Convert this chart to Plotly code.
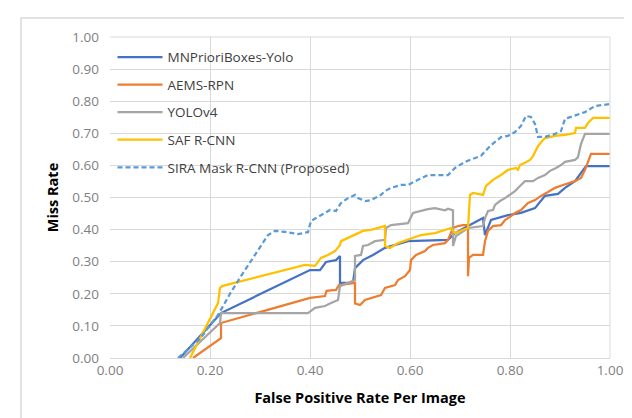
import plotly.graph_objects as go

# ---- data ----
mn_x = [0.14, 0.222, 0.40, 0.42, 0.432, 0.452, 0.46, 0.46, 0.486, 0.49, 0.506, 0.526, 0.55, 0.596, 0.676, 0.69, 0.716, 0.746, 0.75, 0.756, 0.762, 0.796, 0.822, 0.85, 0.87, 0.896, 0.91, 0.93, 0.942, 0.952, 1.0]
mn_y = [0.0, 0.14, 0.274, 0.274, 0.299, 0.305, 0.318, 0.234, 0.234, 0.28, 0.305, 0.321, 0.343, 0.364, 0.368, 0.389, 0.411, 0.436, 0.383, 0.405, 0.430, 0.445, 0.452, 0.467, 0.505, 0.511, 0.530, 0.551, 0.576, 0.598, 0.598]

aems_x = [0.166, 0.222, 0.222, 0.40, 0.43, 0.433, 0.452, 0.458, 0.49, 0.49, 0.50, 0.51, 0.542, 0.55, 0.57, 0.576, 0.59, 0.60, 0.602, 0.612, 0.63, 0.636, 0.646, 0.67, 0.676, 0.686, 0.696, 0.706, 0.716, 0.716, 0.718, 0.726, 0.746, 0.75, 0.756, 0.766, 0.782, 0.79, 0.802, 0.81, 0.822, 0.836, 0.85, 0.862, 0.876, 0.89, 0.906, 0.93, 0.942, 0.95, 0.956, 0.962, 1.0]
aems_y = [0.0, 0.062, 0.109, 0.187, 0.193, 0.209, 0.212, 0.227, 0.234, 0.17, 0.165, 0.181, 0.196, 0.218, 0.227, 0.243, 0.255, 0.274, 0.305, 0.321, 0.333, 0.343, 0.352, 0.358, 0.368, 0.405, 0.411, 0.414, 0.414, 0.255, 0.312, 0.321, 0.321, 0.364, 0.396, 0.411, 0.414, 0.430, 0.442, 0.452, 0.461, 0.483, 0.492, 0.505, 0.517, 0.530, 0.539, 0.551, 0.561, 0.586, 0.611, 0.636, 0.636]

yolo_x = [0.146, 0.20, 0.22, 0.222, 0.30, 0.396, 0.41, 0.43, 0.442, 0.456, 0.46, 0.476, 0.49, 0.49, 0.502, 0.506, 0.516, 0.53, 0.55, 0.552, 0.562, 0.596, 0.606, 0.636, 0.65, 0.67, 0.676, 0.686, 0.686, 0.692, 0.716, 0.746, 0.75, 0.756, 0.766, 0.77, 0.78, 0.79, 0.80, 0.81, 0.822, 0.83, 0.846, 0.856, 0.87, 0.88, 0.892, 0.902, 0.91, 0.93, 0.936, 0.942, 0.95, 1.0]
yolo_y = [0.0, 0.08, 0.109, 0.14, 0.14, 0.14, 0.156, 0.162, 0.171, 0.181, 0.224, 0.234, 0.243, 0.318, 0.321, 0.349, 0.352, 0.364, 0.368, 0.405, 0.414, 0.420, 0.452, 0.464, 0.467, 0.46, 0.465, 0.46, 0.349, 0.38, 0.405, 0.411, 0.436, 0.458, 0.461, 0.477, 0.489, 0.498, 0.508, 0.520, 0.539, 0.551, 0.551, 0.561, 0.570, 0.583, 0.592, 0.601, 0.611, 0.617, 0.626, 0.667, 0.698, 0.698]

saf_x = [0.16, 0.216, 0.22, 0.224, 0.39, 0.41, 0.422, 0.436, 0.45, 0.46, 0.462, 0.476, 0.49, 0.506, 0.522, 0.54, 0.55, 0.55, 0.56, 0.576, 0.596, 0.622, 0.65, 0.67, 0.682, 0.69, 0.70, 0.716, 0.72, 0.726, 0.746, 0.752, 0.766, 0.782, 0.796, 0.812, 0.816, 0.82, 0.83, 0.84, 0.846, 0.856, 0.866, 0.87, 0.89, 0.91, 0.93, 0.932, 0.95, 0.956, 0.966, 1.0]
saf_y = [0.0, 0.171, 0.218, 0.224, 0.29, 0.287, 0.312, 0.321, 0.333, 0.352, 0.364, 0.374, 0.383, 0.396, 0.399, 0.408, 0.411, 0.349, 0.343, 0.358, 0.368, 0.383, 0.389, 0.399, 0.405, 0.389, 0.396, 0.405, 0.508, 0.514, 0.508, 0.536, 0.555, 0.570, 0.586, 0.592, 0.586, 0.601, 0.608, 0.617, 0.629, 0.660, 0.679, 0.685, 0.692, 0.695, 0.701, 0.717, 0.717, 0.732, 0.748, 0.748]

sira_x = [0.136, 0.18, 0.216, 0.24, 0.262, 0.29, 0.316, 0.33, 0.35, 0.376, 0.396, 0.402, 0.422, 0.44, 0.452, 0.462, 0.476, 0.49, 0.496, 0.51, 0.522, 0.542, 0.55, 0.562, 0.582, 0.596, 0.616, 0.636, 0.66, 0.676, 0.69, 0.71, 0.742, 0.76, 0.77, 0.782, 0.796, 0.81, 0.822, 0.832, 0.842, 0.85, 0.856, 0.87, 0.89, 0.902, 0.91, 0.922, 0.95, 0.97, 1.0]
sira_y = [0.0, 0.06, 0.134, 0.20, 0.255, 0.321, 0.383, 0.396, 0.393, 0.386, 0.392, 0.427, 0.445, 0.461, 0.458, 0.483, 0.498, 0.508, 0.498, 0.489, 0.492, 0.508, 0.520, 0.530, 0.539, 0.539, 0.555, 0.570, 0.570, 0.570, 0.592, 0.611, 0.630, 0.660, 0.673, 0.688, 0.692, 0.704, 0.723, 0.754, 0.751, 0.729, 0.689, 0.689, 0.698, 0.707, 0.745, 0.751, 0.766, 0.785, 0.791]

x_ticks = [0.0, 0.2, 0.4, 0.6, 0.8, 1.0]
y_ticks = [0.0, 0.1, 0.2, 0.3, 0.4, 0.5, 0.6, 0.7, 0.8, 0.9, 1.0]

series = [
    ("MNPrioriBoxes-Yolo", mn_x, mn_y, "#4472C4", "solid"),
    ("AEMS-RPN", aems_x, aems_y, "#ED7D31", "solid"),
    ("YOLOv4", yolo_x, yolo_y, "#A5A5A5", "solid"),
    ("SAF R-CNN", saf_x, saf_y, "#FFC000", "solid"),
    ("SIRA Mask R-CNN (Proposed)", sira_x, sira_y, "#5B9BD5", "5px,3px"),
]

fig = go.Figure()
for i, (name, xs, ys, col, dash) in enumerate(series):
    fig.add_trace(go.Scatter(
        x=xs, y=ys, mode="lines", name=name, legendgroup=f"g{i}",
        line=dict(color=col, width=2.25, dash=dash),
    ))

fig.update_layout(
    width=632, height=418,
    margin=dict(l=102, r=30, t=29, b=68),
    paper_bgcolor="white", plot_bgcolor="white",
    font=dict(family="Open Sans, Liberation Sans, sans-serif", color="#595959", size=13),
    showlegend=True,
    legend=dict(
        x=0.005, y=0.985, xanchor="left", yanchor="top",
        bgcolor="rgba(0,0,0,0)", font=dict(size=13.5, color="#404040"),
        traceorder="grouped", tracegroupgap=7, itemwidth=45,
    ),
    xaxis=dict(
        range=[0, 1], tickvals=x_ticks, tickformat=".2f",
        showgrid=True, gridcolor="#D9D9D9", gridwidth=1,
        zeroline=False, showline=True, linecolor="#D9D9D9",
        ticks="", ticklabelstandoff=0, tickfont=dict(size=13.5, color="#7F7F7F"),
        title=dict(text="<b>False Positive Rate Per Image</b>", font=dict(size=14.5, color="#000000"), standoff=14),
    ),
    yaxis=dict(
        range=[0, 1], tickvals=y_ticks, tickformat=".2f",
        showgrid=True, gridcolor="#D9D9D9", gridwidth=1,
        zeroline=False, showline=False,
        ticks="", ticklabelstandoff=10, tickfont=dict(size=13.5, color="#7F7F7F"),
        title=dict(text="<b>Miss Rate</b>", font=dict(size=14.5, color="#000000"), standoff=10),
    ),
)

# top and right gridline borders of the plot area
fig.add_shape(type="line", xref="paper", yref="paper", x0=0, x1=1, y0=1, y1=1,
              line=dict(color="#D9D9D9", width=1))
fig.add_shape(type="line", xref="paper", yref="paper", x0=1, x1=1, y0=0, y1=1,
              line=dict(color="#D9D9D9", width=1))
# outer chart frame (light gray)
fig.add_shape(type="path", xref="paper", yref="paper",
              path="M -0.178,-0.3 L -0.178,1.059 L 1.052,1.059 L 1.052,-0.3",
              line=dict(color="#D9D9D9", width=1.5), layer="below")

fig.write_html("out.html")
